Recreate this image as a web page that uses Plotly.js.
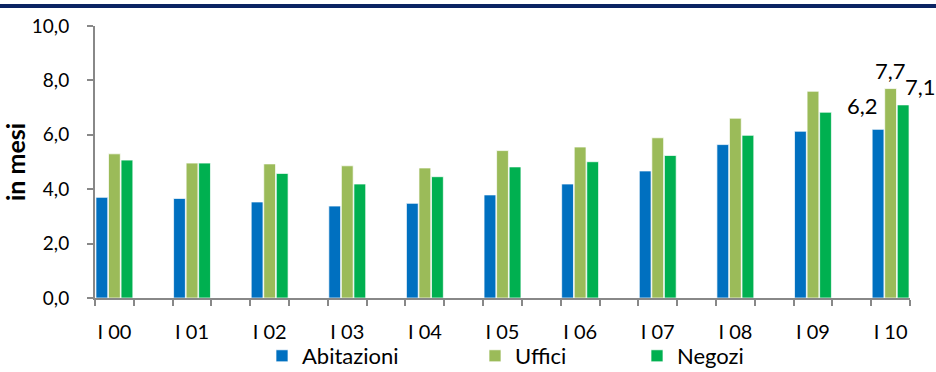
<!DOCTYPE html>
<html>
<head>
<meta charset="utf-8">
<script src="https://cdn.plot.ly/plotly-3.0.1.min.js"></script>
<style>
  html, body { margin: 0; padding: 0; background: #fff; overflow: hidden; }
  #wrap { position: relative; width: 936px; height: 372px; overflow: hidden; }
  #band { position: absolute; left: 0; top: 4px; width: 936px; height: 4px; background: #0b2463; z-index: 5; }
  #chart { position: absolute; left: 0; top: 0; width: 936px; height: 372px; }
</style>
</head>
<body>
<div id="wrap">
  <div id="chart"></div>
  <div id="band"></div>
</div>
<script>
// Half-year periods (only the first half of each year carries data)
const categories = ["I 00","II 00","I 01","II 01","I 02","II 02","I 03","II 03","I 04","II 04",
                    "I 05","II 05","I 06","II 06","I 07","II 07","I 08","II 08","I 09","II 09","I 10"];
const tickLabels = ["I 00","","I 01","","I 02","","I 03","","I 04","",
                    "I 05","","I 06","","I 07","","I 08","","I 09","","I 10"];
const abitazioni = [3.70,null,3.66,null,3.53,null,3.38,null,3.48,null,3.79,null,4.19,null,4.67,null,5.64,null,6.13,null,6.2];
const uffici     = [5.30,null,4.96,null,4.93,null,4.86,null,4.78,null,5.42,null,5.55,null,5.89,null,6.61,null,7.60,null,7.7];
const negozi     = [5.07,null,4.96,null,4.58,null,4.19,null,4.46,null,4.82,null,5.01,null,5.24,null,5.98,null,6.83,null,7.1];
const seriesNames = ["Abitazioni","Uffici","Negozi"];
const colors = ["#0070C0","#9BBB59","#00B050"];
const lastLabels = ["6,2","7,7","7,1"];

const FONT = "Lato, 'Open Sans', sans-serif";
const series = [abitazioni, uffici, negozi];
const legendIds = ["legend","legend2","legend3"];

const traces = series.map((vals, i) => ({
  type: "bar",
  name: seriesNames[i],
  x: categories,
  y: vals,
  marker: { color: colors[i], line: { color: "rgba(255,255,255,0.7)", width: 1 } },
  legend: legendIds[i],
  hoverinfo: "x+y+name"
}));

const last = categories.length - 1;
const shifts = [[-28, 24], [0, 18], [30, 18]];
const annotations = series.map((vals, i) => ({
  x: categories[last], y: vals[last], xref: "x", yref: "y",
  text: lastLabels[i], showarrow: false,
  xshift: shifts[i][0], yshift: shifts[i][1],
  font: { family: FONT, size: 22, color: "#000" }
}));

const legendBase = {
  orientation: "h", yref: "paper", yanchor: "top", y: -0.136, xanchor: "left",
  font: { family: FONT, size: 22, color: "#000" },
  bgcolor: "rgba(0,0,0,0)", itemwidth: 30, tracegroupgap: 0,
  borderwidth: 0
};

const layout = {
  width: 936, height: 372,
  margin: { l: 95, r: 26, t: 26, b: 74, autoexpand: false },
  paper_bgcolor: "#fff", plot_bgcolor: "#fff",
  separators: ",.",
  barmode: "group", bargap: 0.03, bargroupgap: 0.06,
  font: { family: FONT, color: "#000" },
  showlegend: true,
  legend:  Object.assign({}, legendBase, { x: (262 - 95) / 815 }),
  legend2: Object.assign({}, legendBase, { x: (475 - 95) / 815 }),
  legend3: Object.assign({}, legendBase, { x: (637 - 95) / 815 }),
  xaxis: {
    type: "category",
    range: [-0.5, categories.length - 0.5],
    tickmode: "array", tickvals: categories, ticktext: tickLabels,
    tickson: "boundaries", ticks: "outside", ticklen: 6, tickwidth: 2, tickcolor: "#888",
    showline: true, linecolor: "#888", linewidth: 2,
    showgrid: false, zeroline: false,
    tickangle: 0,
    tickfont: { family: FONT, size: 20, color: "#000" },
    ticklabelstandoff: 15,
    automargin: false,
    fixedrange: true
  },
  yaxis: {
    range: [0, 10], dtick: 2, tick0: 0, tickformat: ".1f",
    ticks: "outside", ticklen: 6, tickwidth: 2, tickcolor: "#888",
    showline: true, linecolor: "#888", linewidth: 2,
    showgrid: false, zeroline: false,
    tickfont: { family: FONT, size: 19, color: "#000" },
    ticklabelstandoff: 14,
    automargin: false,
    title: { text: "<b>in mesi</b>", font: { family: FONT, size: 25, color: "#000" }, standoff: 4 },
    fixedrange: true
  },
  annotations: annotations
};

Plotly.newPlot("chart", traces, layout, { displayModeBar: false, staticPlot: true });
</script>
</body>
</html>
